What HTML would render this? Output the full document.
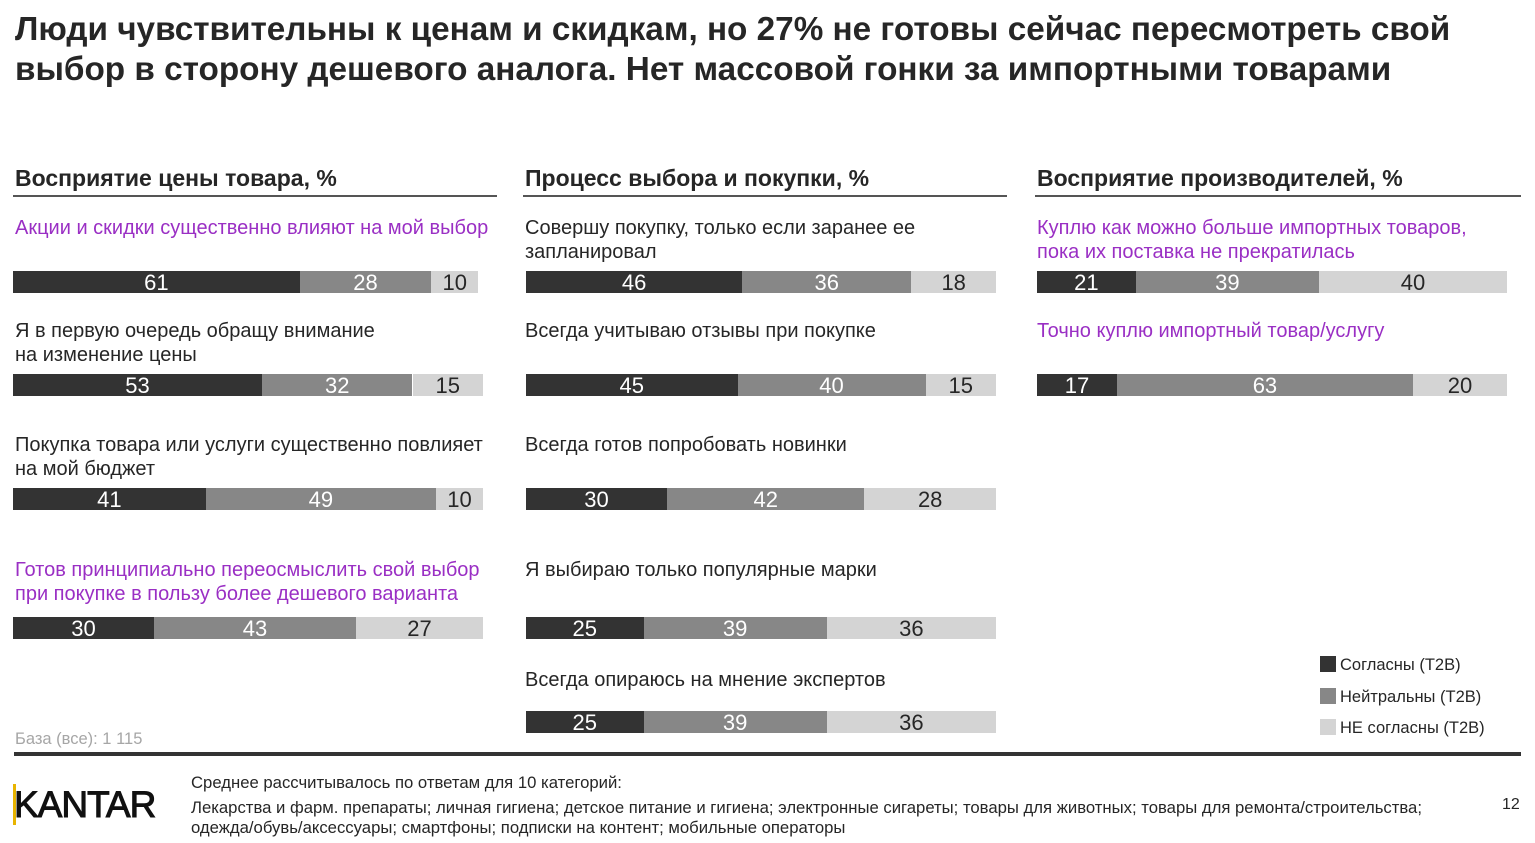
<!DOCTYPE html>
<html><head><meta charset="utf-8">
<style>
body{margin:0;width:1535px;height:843px;background:#fff;font-family:"Liberation Sans",Arial,sans-serif;position:relative;overflow:hidden;color:#262626}
.abs{position:absolute}
h1{position:absolute;left:15px;top:10px;margin:0;font-size:33.3px;line-height:40px;font-weight:bold;color:#262626;width:1500px}
.ct{position:absolute;top:163px;font-size:23px;font-weight:bold;line-height:30px;border-bottom:2px solid #555;height:34px}
.lbl{position:absolute;font-size:20px;line-height:24px;color:#262626;white-space:nowrap}
.pur{color:#9a2fc4}
.seg{position:absolute;height:22px;font-size:22px;line-height:23px;text-align:center}
.leg{position:absolute;left:1320px;font-size:16.5px;line-height:18px}
.leg span{display:inline-block;width:16px;height:16px;vertical-align:-2px;margin-right:4px}
</style></head><body>
<h1>Люди чувствительны к ценам и скидкам, но 27% не готовы сейчас пересмотреть свой выбор в сторону дешевого аналога. Нет массовой гонки за импортными товарами</h1>
<div class="ct" style="left:13px;width:484px;padding-left:2px;box-sizing:border-box">Восприятие цены товара, %</div>
<div class="ct" style="left:523px;width:484px;padding-left:2px;box-sizing:border-box">Процесс выбора и покупки, %</div>
<div class="ct" style="left:1035px;width:486px;padding-left:2px;box-sizing:border-box">Восприятие производителей, %</div>
<div id="charts"></div>
<div class="leg" style="top:656px"><span style="background:#333"></span>Согласны (T2B)</div>
<div class="leg" style="top:688px"><span style="background:#878787"></span>Нейтральны (T2B)</div>
<div class="leg" style="top:719px"><span style="background:#d4d4d4"></span>НЕ согласны (T2B)</div>
<div class="abs" style="left:15px;top:730px;font-size:16.5px;color:#a6a6a6">База (все): 1 115</div>
<div class="abs" style="left:14px;top:752px;width:1507px;height:4px;background:#333"></div>
<div class="abs" style="left:13px;top:785px;font-size:37px;line-height:40px;letter-spacing:-1px;color:#111;-webkit-text-stroke:1px #111"><span style="border-left:3px solid #e8b400;margin-right:-2px"></span>KANTAR</div>
<div class="abs" style="left:191px;top:774px;font-size:16.7px;line-height:18px;color:#262626;white-space:nowrap">Среднее рассчитывалось по ответам для 10 категорий:</div>
<div class="abs" style="left:191px;top:798px;font-size:16.7px;line-height:20px;width:1300px;color:#262626;white-space:nowrap">Лекарства и фарм. препараты; личная гигиена; детское питание и гигиена; электронные сигареты; товары для животных; товары для ремонта/строительства;<br>одежда/обувь/аксессуары; смартфоны; подписки на контент; мобильные операторы</div>
<div class="abs" style="left:1502px;top:796px;font-size:16px">12</div>
<script>
const col1Labels=["Акции и скидки существенно влияют на мой выбор","Я в первую очередь обращу внимание<br>на изменение цены","Покупка товара или услуги существенно повлияет<br>на мой бюджет","Готов принципиально переосмыслить свой выбор<br>при покупке в пользу более дешевого варианта"];
const col1Agree=[61,53,41,30];
const col1Neutral=[28,32,49,43];
const col1Disagree=[10,15,10,27];
const col2Labels=["Совершу покупку, только если заранее ее<br>запланировал","Всегда учитываю отзывы при покупке","Всегда готов попробовать новинки","Я выбираю только популярные марки","Всегда опираюсь на мнение экспертов"];
const col2Agree=[46,45,30,25,25];
const col2Neutral=[36,40,42,39,39];
const col2Disagree=[18,15,28,36,36];
const col3Labels=["Куплю как можно больше импортных товаров,<br>пока их поставка не прекратилась","Точно куплю импортный товар/услугу"];
const col3Agree=[21,17];
const col3Neutral=[39,63];
const col3Disagree=[40,20];
const purple=[[true,false,false,true],[false,false,false,false,false],[true,true]];
const cols=[
 {x:13,lx:15,labels:col1Labels,a:col1Agree,n:col1Neutral,d:col1Disagree,barY:[271,374,488,617],lblY:[216,319,433,558]},
 {x:526,lx:525,labels:col2Labels,a:col2Agree,n:col2Neutral,d:col2Disagree,barY:[271,374,488,617,711],lblY:[216,319,433,558,668]},
 {x:1037,lx:1037,labels:col3Labels,a:col3Agree,n:col3Neutral,d:col3Disagree,barY:[271,374],lblY:[216,319]}
];
const scale=4.7;
const root=document.getElementById('charts');
cols.forEach((c,ci)=>{
 c.labels.forEach((t,i)=>{
  const l=document.createElement('div');
  l.className='lbl'+(purple[ci][i]?' pur':'');
  
  
  l.style.left=c.lx+'px';l.style.top=c.lblY[i]+'px';
  l.innerHTML=t;root.appendChild(l);
  let x=c.x;
  [[c.a[i],'#333','#fff','agree'],[c.n[i],'#878787','#fff','neutral'],[c.d[i],'#d4d4d4','#262626','disagree']].forEach(([v,bg,fg,nm])=>{
   const s=document.createElement('div');
   s.className='seg';
   
   
   const w=v*scale;
   s.style.left=x+'px';s.style.top=c.barY[i]+'px';s.style.width=w+'px';
   s.style.background=bg;s.style.color=fg;s.textContent=v;
   root.appendChild(s);x+=w;
  });
 });
});
</script>
</body></html>
